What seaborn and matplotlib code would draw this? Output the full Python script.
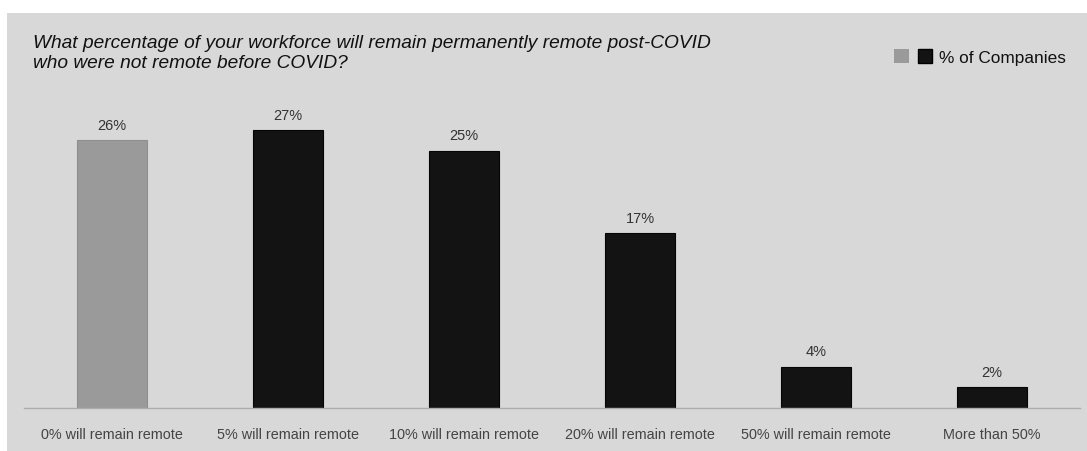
import matplotlib
matplotlib.use("Agg")
import matplotlib.pyplot as plt
import matplotlib.patches as mpatches
from matplotlib.legend_handler import HandlerTuple
import seaborn as sns
import pandas as pd

categories = ["0% will remain remote", "5% will remain remote", "10% will remain remote",
              "20% will remain remote", "50% will remain remote", "More than 50%"]
values = [26, 27, 25, 17, 4, 2]
value_labels = ["26%", "27%", "25%", "17%", "4%", "2%"]
groups = ["base", "other", "other", "other", "other", "other"]
series_name = "% of Companies"
title = "What percentage of your workforce will remain permanently remote post-COVID\nwho were not remote before COVID?"

BG = "#d8d8d8"
GRAY = "#9a9a9a"
DARK = "#131313"

sns.set_theme(style="white")
plt.rcParams["font.family"] = ["Liberation Sans", "DejaVu Sans"]

W, H = 1087, 452
fig = plt.figure(figsize=(W / 100, H / 100), dpi=100, facecolor="white")
fig.patches.append(mpatches.Rectangle((7 / W, 0), 1 - 7 / W, 1 - 14 / H,
                                      transform=fig.transFigure, facecolor=BG,
                                      edgecolor="none", zorder=-10))

ax = fig.add_axes([24 / W, 43 / H, (1080 - 24) / W, (409 - 100) / H])
ax.set_facecolor("none")
ax.set_zorder(1)

df = pd.DataFrame({"cat": categories, "val": values, "grp": groups})
sns.barplot(data=df, x="cat", y="val", hue="grp", palette={"base": GRAY, "other": DARK},
            width=0.4, dodge=False, legend=False, ax=ax, saturation=1,
            edgecolor="#050505", linewidth=0.8)

for cont in ax.containers:
    labs = []
    for bar in cont:
        h = bar.get_height()
        if h != h or h == 0:
            labs.append("")
        else:
            labs.append(value_labels[values.index(int(round(h)))])
            if abs(bar.get_facecolor()[0] - 0.6) < 0.05:
                bar.set_edgecolor("#8f8f8f")
    ax.bar_label(cont, labels=labs, padding=6, fontsize=10.5, color="#333333")

ax.set_xlim(-0.5, 5.5)
ax.set_ylim(0, 30)
ax.set_xlabel("")
ax.set_ylabel("")
ax.set_yticks([])
ax.tick_params(axis="x", length=0, pad=14, labelsize=10.4, labelcolor="#444444")
for s in ["top", "right", "left"]:
    ax.spines[s].set_visible(False)
ax.spines["bottom"].set_color("#adadad")
ax.spines["bottom"].set_linewidth(1.0)

fig.text(33 / W, 1 - 35 / H, title, ha="left", va="top", fontsize=13.8,
         style="italic", color="#111111", linespacing=1.2)

h_gray = mpatches.Patch(facecolor=GRAY, edgecolor="none")
h_dark = mpatches.Patch(facecolor=DARK, edgecolor="#000000")
fig.legend(handles=[(h_gray, h_dark)], labels=[series_name],
           handler_map={tuple: HandlerTuple(ndivide=None, pad=0.5)},
           loc="center right", bbox_to_anchor=(1066 / W, 1 - 58 / H),
           frameon=False, fontsize=12.4, handlelength=2.2, handleheight=0.85,
           handletextpad=0.4, labelcolor="#111111", borderpad=0, borderaxespad=0)

fig.savefig("out.png", dpi=100, facecolor="white")
